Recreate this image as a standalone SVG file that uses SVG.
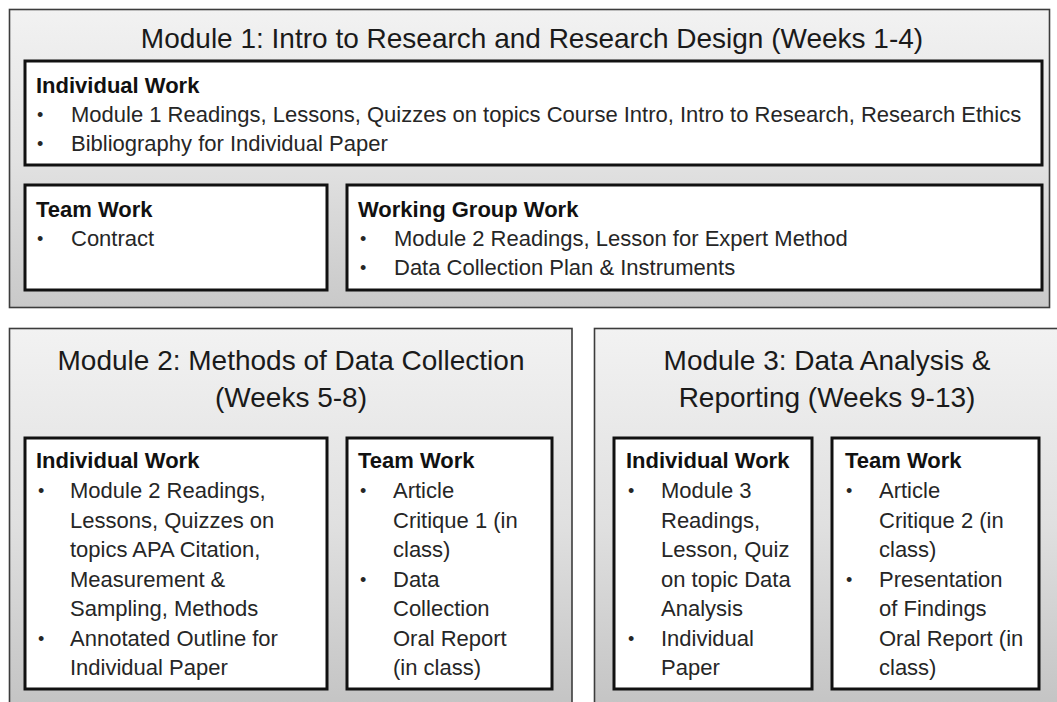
<svg xmlns="http://www.w3.org/2000/svg" width="1057" height="702" viewBox="0 0 1057 702">
  <style>
    .outer { stroke: #3c3c3c; stroke-width: 1.6; }
    .inner { fill: #ffffff; stroke: #111111; stroke-width: 3; }
    .title { font-family: "Liberation Sans", Arial, sans-serif; font-size: 28px; fill: #1a1a1a; text-anchor: middle; }
    .head { font-family: "Liberation Sans", Arial, sans-serif; font-size: 22px; font-weight: bold; fill: #111111; }
    .body { font-family: "Liberation Sans", Arial, sans-serif; font-size: 22px; fill: #262626; }
    .bul { font-family: "Liberation Sans", Arial, sans-serif; font-size: 18px; fill: #262626; }
  </style>
  <defs>
    <linearGradient id="g1" x1="0" y1="0" x2="0" y2="1">
      <stop offset="0" stop-color="#f2f2f2"/>
      <stop offset="0.5" stop-color="#e2e2e2"/>
      <stop offset="1" stop-color="#c9c9c9"/>
    </linearGradient>
    <linearGradient id="g2" x1="0" y1="0" x2="0" y2="1">
      <stop offset="0" stop-color="#f2f2f2"/>
      <stop offset="0.5" stop-color="#e0e0e0"/>
      <stop offset="1" stop-color="#c2c2c2"/>
    </linearGradient>
  </defs>
  <rect width="1057" height="702" fill="#ffffff"/>

  <g id="module1">
    <rect class="outer" x="9.5" y="9.5" width="1040" height="298" fill="url(#g1)"/>
    <text class="title" x="532" y="48">Module 1: Intro to Research and Research Design (Weeks 1-4)</text>
  </g>
  <g id="m1-individual">
    <rect class="inner" x="25" y="61" width="1017" height="104"/>
    <text class="head" x="36" y="93">Individual Work</text>
    <text class="bul" x="37" y="121">•</text>
    <text class="body" x="71" y="122">Module 1 Readings, Lessons, Quizzes on topics Course Intro, Intro to Research, Research Ethics</text>
    <text class="bul" x="37" y="150">•</text>
    <text class="body" x="71" y="151">Bibliography for Individual Paper</text>
  </g>
  <g id="m1-team">
    <rect class="inner" x="25" y="185" width="302" height="105"/>
    <text class="head" x="36" y="217">Team Work</text>
    <text class="bul" x="37" y="245">•</text>
    <text class="body" x="71" y="246">Contract</text>
  </g>
  <g id="m1-working-group">
    <rect class="inner" x="347" y="185" width="695" height="105"/>
    <text class="head" x="358" y="217">Working Group Work</text>
    <text class="bul" x="360" y="245">•</text>
    <text class="body" x="394" y="246">Module 2 Readings, Lesson for Expert Method</text>
    <text class="bul" x="360" y="274">•</text>
    <text class="body" x="394" y="275">Data Collection Plan &amp; Instruments</text>
  </g>

  <g id="module2">
    <rect class="outer" x="9.5" y="328.5" width="562.5" height="390" fill="url(#g2)"/>
    <text class="title" x="291" y="370">Module 2: Methods of Data Collection</text>
    <text class="title" x="291" y="407">(Weeks 5-8)</text>
  </g>
  <g id="m2-individual">
    <rect class="inner" x="25" y="438" width="302" height="251"/>
    <text class="head" x="36" y="468">Individual Work</text>
    <text class="bul" x="38" y="497">•</text>
    <text class="body" x="70" y="498">Module 2 Readings,</text>
    <text class="body" x="70" y="527.5">Lessons, Quizzes on</text>
    <text class="body" x="70" y="557">topics APA Citation,</text>
    <text class="body" x="70" y="586.5">Measurement &amp;</text>
    <text class="body" x="70" y="616">Sampling, Methods</text>
    <text class="bul" x="38" y="644.5">•</text>
    <text class="body" x="70" y="645.5">Annotated Outline for</text>
    <text class="body" x="70" y="675">Individual Paper</text>
  </g>
  <g id="m2-team">
    <rect class="inner" x="347" y="438" width="205" height="251"/>
    <text class="head" x="358" y="468">Team Work</text>
    <text class="bul" x="360" y="497">•</text>
    <text class="body" x="393" y="498">Article</text>
    <text class="body" x="393" y="527.5">Critique 1 (in</text>
    <text class="body" x="393" y="557">class)</text>
    <text class="bul" x="360" y="585.5">•</text>
    <text class="body" x="393" y="586.5">Data</text>
    <text class="body" x="393" y="616">Collection</text>
    <text class="body" x="393" y="645.5">Oral Report</text>
    <text class="body" x="393" y="675">(in class)</text>
  </g>

  <g id="module3">
    <rect class="outer" x="594.5" y="328.5" width="480" height="390" fill="url(#g2)"/>
    <text class="title" x="827" y="370">Module 3: Data Analysis &amp;</text>
    <text class="title" x="827" y="407">Reporting (Weeks 9-13)</text>
  </g>
  <g id="m3-individual">
    <rect class="inner" x="614" y="438" width="198" height="251"/>
    <text class="head" x="626" y="468">Individual Work</text>
    <text class="bul" x="628" y="497">•</text>
    <text class="body" x="661" y="498">Module 3</text>
    <text class="body" x="661" y="527.5">Readings,</text>
    <text class="body" x="661" y="557">Lesson, Quiz</text>
    <text class="body" x="661" y="586.5">on topic Data</text>
    <text class="body" x="661" y="616">Analysis</text>
    <text class="bul" x="628" y="644.5">•</text>
    <text class="body" x="661" y="645.5">Individual</text>
    <text class="body" x="661" y="675">Paper</text>
  </g>
  <g id="m3-team">
    <rect class="inner" x="832" y="438" width="207" height="251"/>
    <text class="head" x="845" y="468">Team Work</text>
    <text class="bul" x="846" y="497">•</text>
    <text class="body" x="879" y="498">Article</text>
    <text class="body" x="879" y="527.5">Critique 2 (in</text>
    <text class="body" x="879" y="557">class)</text>
    <text class="bul" x="846" y="585.5">•</text>
    <text class="body" x="879" y="586.5">Presentation</text>
    <text class="body" x="879" y="616">of Findings</text>
    <text class="body" x="879" y="645.5">Oral Report (in</text>
    <text class="body" x="879" y="675">class)</text>
  </g>

  <g id="connectors"></g>
</svg>
